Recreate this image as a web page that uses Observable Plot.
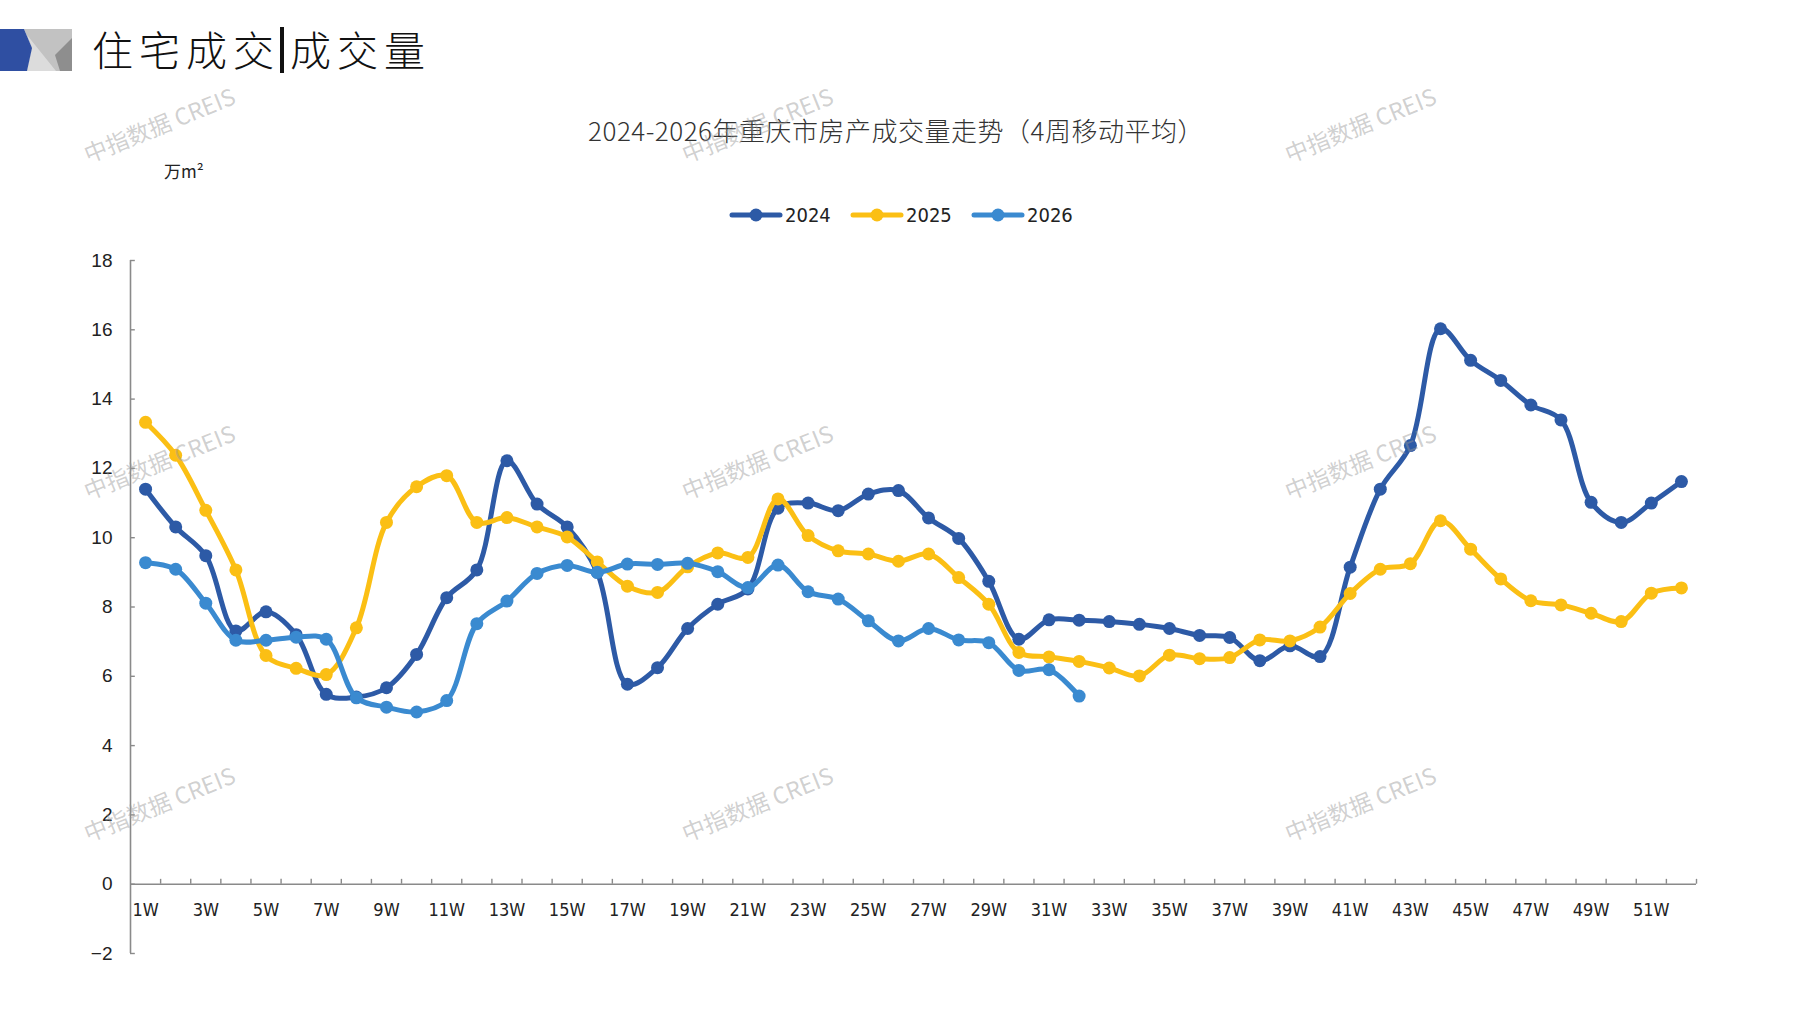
<!DOCTYPE html>
<html><head><meta charset="utf-8">
<script src="https://cdn.jsdelivr.net/npm/d3@7"></script>
<script src="https://cdn.jsdelivr.net/npm/@observablehq/plot@0.6"></script>
<style>
body{margin:0;background:#fff;}
#wrap{position:relative;width:1797px;height:1010px;overflow:hidden;background:#fff;font-family:"Noto Sans CJK SC",sans-serif;}
#logo{position:absolute;left:0;top:29px;}
#title{position:absolute;left:92px;top:20px;font-size:41px;font-weight:300;color:#111;letter-spacing:6px;line-height:56px;white-space:nowrap;}
#title .bar{display:inline-block;width:4px;height:46px;background:#111;vertical-align:-7px;margin:0 6px 0 0;}
#subtitle{position:absolute;left:0;width:1792px;text-align:center;top:111px;font-size:26px;font-weight:300;color:#333;letter-spacing:0.5px;}
#unit{position:absolute;left:164px;top:158px;font-size:17px;color:#222;}
#legend{position:absolute;top:200px;left:0;width:1797px;height:30px;}
.lg{position:absolute;top:0;display:flex;align-items:center;height:30px;font-family:"Liberation Sans Narrow","DejaVu Sans Condensed","Noto Sans",sans-serif;font-stretch:condensed;font-size:20px;color:#222;}
#chart{position:absolute;left:0;top:200px;}
.wm{position:absolute;font-family:"Noto Sans CJK SC",sans-serif;font-size:23px;color:rgba(150,150,150,0.45);transform:translate(-50%,-50%) rotate(-22deg);white-space:nowrap;pointer-events:none;z-index:5;}
</style></head><body><div id="wrap">
<svg id="logo" width="75" height="42" viewBox="0 0 75 42">
  <polygon points="24,0 72,0 72,42 27,42 32,19" fill="#c2c2c2"/>
  <polygon points="27,42 32,19 27,6 56,42" fill="#dcdcdc"/>
  <polygon points="72,9 72,42 60,42 55,26" fill="#8e8e8e"/>
  <polygon points="0,0 24,0 32,19 27,42 0,42" fill="#2f4fa2"/>
</svg>
<div id="title">住宅成交<span class="bar"></span>成交量</div>
<div id="subtitle">2024-2026年重庆市房产成交量走势（4周移动平均）</div>
<div id="unit">万m²</div>
<div id="legend"></div>
<div id="chart"></div>
</div>
<script>
const weekLabels = ["1W","2W","3W","4W","5W","6W","7W","8W","9W","10W","11W","12W","13W","14W","15W","16W","17W","18W","19W","20W","21W","22W","23W","24W","25W","26W","27W","28W","29W","30W","31W","32W","33W","34W","35W","36W","37W","38W","39W","40W","41W","42W","43W","44W","45W","46W","47W","48W","49W","50W","51W","52W"];
const seriesNames = ["2024","2025","2026"];
const values2024 = [11.4,10.31,9.48,7.31,7.86,7.2,5.48,5.4,5.67,6.63,
  8.27,9.07,12.22,10.97,10.31,9.0,5.77,6.25,7.38,8.08,
  8.52,10.85,11.0,10.78,11.26,11.36,10.57,9.98,8.74,7.07,
  7.63,7.62,7.58,7.5,7.38,7.18,7.12,6.45,6.88,6.57,
  9.15,11.4,12.66,16.03,15.12,14.54,13.83,13.4,11.02,10.44,
  11.0,11.62];
const values2025 = [13.33,12.38,10.79,9.07,6.6,6.23,6.05,7.4,10.44,11.47,
  11.79,10.44,10.58,10.31,10.02,9.3,8.6,8.42,9.16,9.56,
  9.43,11.12,10.06,9.62,9.53,9.32,9.53,8.85,8.08,6.69,
  6.56,6.43,6.24,6.01,6.61,6.51,6.54,7.05,7.02,7.42,
  8.39,9.09,9.25,10.49,9.67,8.81,8.18,8.06,7.82,7.58,
  8.4,8.55];
const values2026 = [9.28,9.09,8.11,7.04,7.04,7.13,7.07,5.38,5.11,4.97,
  5.3,7.52,8.17,8.97,9.2,9.0,9.24,9.23,9.26,9.02,
  8.56,9.21,8.44,8.23,7.6,7.02,7.38,7.05,6.97,6.17,
  6.19,5.43];
const yTicks = [-2,0,2,4,6,8,10,12,14,16,18];
const colors = ["#2d5aa6","#fbbf14","#3a8ad0"];

const allValues = [values2024, values2025, values2026];
const data = [];
allValues.forEach((arr, s) => arr.forEach((v, i) => data.push({series: seriesNames[s], week: i + 1, value: v})));
const weekNums = weekLabels.map((_, i) => i + 1);
const oddWeeks = weekNums.filter(w => w % 2 === 1);
const boundaries = weekNums.map(w => w + 0.5);

const axisColor = "#8a8a8a";
const marks = [
  Plot.ruleY([0], {stroke: axisColor, strokeWidth: 1.6}),
  Plot.ruleX([0.5], {y1: -2, y2: 18, stroke: axisColor, strokeWidth: 1.6}),
  Plot.ruleY(yTicks, {x1: 0.5, x2: 0.66, stroke: axisColor, strokeWidth: 1.4}),
  Plot.ruleX(boundaries, {y1: 0, y2: 0.14, stroke: axisColor, strokeWidth: 1.4}),
  Plot.axisY({ticks: yTicks, tickSize: 0, tickPadding: 18, label: null, fontSize: 19, fill: "#222", fontFamily: "Liberation Sans, Noto Sans, sans-serif"}),
  Plot.text(oddWeeks, {x: d => d, y: 0, text: d => weekLabels[d - 1], dy: 26, fontSize: 18, fill: "#222", fontFamily: "Liberation Sans Narrow, DejaVu Sans Condensed, sans-serif"})
];
seriesNames.forEach((name, s) => {
  const rows = data.filter(d => d.series === name);
  marks.push(Plot.line(rows, {x: "week", y: "value", stroke: colors[s], strokeWidth: 5, curve: "catmull-rom", strokeLinecap: "round", strokeLinejoin: "round"}));
  marks.push(Plot.dot(rows, {x: "week", y: "value", fill: colors[s], r: 6.5, stroke: "none"}));
});

const chart = Plot.plot({
  width: 1797,
  height: 800,
  marginTop: 60,
  marginBottom: 47,
  marginLeft: 130,
  marginRight: 101,
  style: {background: "transparent", overflow: "visible"},
  x: {type: "linear", domain: [0.5, 52.5], axis: null},
  y: {domain: [-2, 18], axis: null},
  marks
});
document.getElementById("chart").appendChild(chart);

// legend
const legend = document.getElementById("legend");
const lgPos = [729, 850, 971];
seriesNames.forEach((name, s) => {
  const item = document.createElement("div");
  item.className = "lg";
  item.style.left = lgPos[s] + "px";
  item.innerHTML = `<svg width="54" height="14" style="margin-right:2px"><line x1="3" y1="7" x2="51" y2="7" stroke="${colors[s]}" stroke-width="5" stroke-linecap="round"/><circle cx="27" cy="7" r="6.5" fill="${colors[s]}"/></svg><span>${name}</span>`;
  legend.appendChild(item);
});

// watermarks
const wmX = [159, 757, 1360];
const wmY = [124, 461, 803];
const wrap = document.getElementById("wrap");
wmY.forEach(y => wmX.forEach(x => {
  const d = document.createElement("div");
  d.className = "wm";
  d.style.left = x + "px";
  d.style.top = y + "px";
  d.textContent = "中指数据 CREIS";
  wrap.appendChild(d);
}));
</script>
</body></html>
